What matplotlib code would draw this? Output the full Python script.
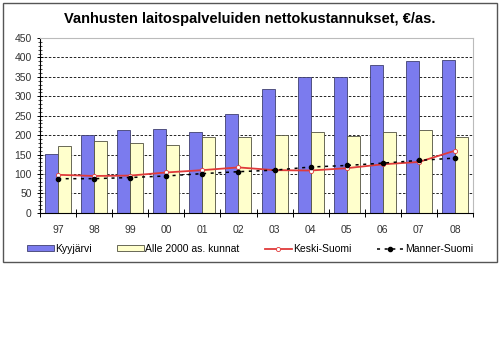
import numpy as np
import matplotlib
matplotlib.use('Agg')
import matplotlib.pyplot as plt
from matplotlib.ticker import MultipleLocator
from matplotlib.patches import Rectangle

plt.rcParams['font.family'] = ['Liberation Sans', 'DejaVu Sans']

years = ['97', '98', '99', '00', '01', '02', '03', '04', '05', '06', '07', '08']
kyyjarvi = [152, 200, 212, 215, 208, 255, 318, 349, 350, 380, 392, 394]
alle2000 = [172, 184, 179, 174, 194, 195, 200, 207, 199, 207, 212, 195]
keski_suomi = [98, 95, 96, 104, 110, 117, 110, 109, 115, 125, 131, 160]
manner_suomi = [88, 88, 91, 95, 101, 106, 110, 118, 122, 128, 135, 141]

fig = plt.figure(figsize=(5, 3.39), dpi=100)
ax = fig.add_axes([0.08, 0.372, 0.866, 0.516])

x = np.arange(len(years))
w = 0.36
b1 = ax.bar(x - w/2, kyyjarvi, w, color='#7B7BEE', edgecolor='#404070', linewidth=0.6,
            label='Kyyjärvi', zorder=2)
b2 = ax.bar(x + w/2, alle2000, w, color='#FFFFCC', edgecolor='#505040', linewidth=0.6,
            label='Alle 2000 as. kunnat', zorder=2)
l1, = ax.plot(x, keski_suomi, color='#E03A3A', lw=1.3, marker='o', ms=3,
              mfc='white', mec='#E03A3A', mew=0.6, label='Keski-Suomi', zorder=3)
l2, = ax.plot(x, manner_suomi, color='black', lw=1.1, ls=(0, (2, 3)), marker='o', ms=3,
              mfc='black', mec='black', label='Manner-Suomi', zorder=3)

ax.set_xlim(-0.5, len(years) - 0.5)
ax.set_ylim(0, 450)
ax.yaxis.set_major_locator(MultipleLocator(50))
ax.yaxis.set_minor_locator(MultipleLocator(10))
ax.grid(axis='y', which='major', color='black', ls=(0, (3, 2)), lw=0.6, zorder=0)
ax.set_xticks(x)
ax.set_xticklabels(years)
ax.set_xticks(np.arange(-0.5, len(years)), minor=True)
ax.tick_params(axis='x', which='major', length=0, pad=9, labelsize=7.5, labelcolor='#333333')
ax.tick_params(axis='x', which='minor', length=6, direction='inout', width=0.7)
ax.tick_params(axis='y', which='major', length=5, direction='inout', width=0.7,
               labelsize=7.5, labelcolor='#333333')
ax.tick_params(axis='y', which='minor', length=3, direction='inout', width=0.5)
for s in ['top', 'right']:
    ax.spines[s].set_color('#BBBBBB')
for s in ['left', 'bottom']:
    ax.spines[s].set_color('black')
    ax.spines[s].set_linewidth(0.8)

fig.text(0.5, 0.945, 'Vanhusten laitospalveluiden nettokustannukset, €/as.',
         ha='center', va='center', fontsize=10.5, fontweight='bold')

fig.legend([b1, b2, l1, l2], ['Kyyjärvi', 'Alle 2000 as. kunnat', 'Keski-Suomi', 'Manner-Suomi'],
           loc='center', bbox_to_anchor=(0.5, 0.265), ncol=4, frameon=False,
           fontsize=7.5, handlelength=2.6, handletextpad=0.15, columnspacing=2.4,
           handleheight=0.5)

fig.patches.append(Rectangle((0.006, 1 - 262/339), 0.988, (262 - 3)/339,
                             transform=fig.transFigure, fill=False,
                             edgecolor='#555555', lw=1))

fig.savefig('out.png', dpi=100)
